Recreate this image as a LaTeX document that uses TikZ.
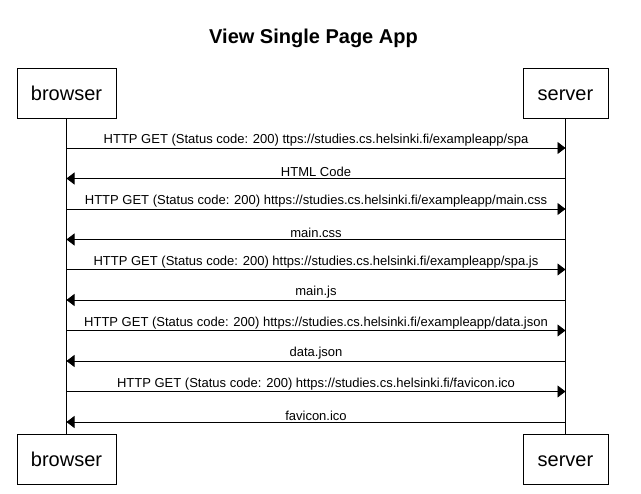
\documentclass[tikz,border=0pt]{standalone}
\usepackage{fontspec}
\setmainfont{Liberation Sans}
\usetikzlibrary{arrows.meta}
\begin{document}
\begin{tikzpicture}[x=1pt,y=-1pt,
  actor/.style={draw,line width=0.8pt,minimum height=50pt,inner sep=0pt,text height=14.6pt,text depth=0pt,font=\fontsize{20}{24}\selectfont},
  msg/.style={line width=0.8pt,-{Triangle[length=8pt,width=12pt]}},
  lbl/.style={font=\fontsize{13}{15}\selectfont,above=0pt,inner sep=1pt},
  life/.style={line width=0.8pt}]
\useasboundingbox (0,0) rectangle (641,494);
\node[font=\bfseries\fontsize{20}{24}\selectfont] (title) at (313.5,38) {View Single Page App};
\node[actor,minimum width=99pt] (bt) at (66.5,93) {browser};
\node[actor,minimum width=85pt] (st) at (565.5,93) {server};
\node[actor,minimum width=99pt] (bb) at (66.5,459) {browser};
\node[actor,minimum width=85pt] (sb) at (565.5,459) {server};
\draw[life] (bt.south) -- (bb.north);
\draw[life] (st.south) -- (sb.north);
\foreach \i/\y in {1/148,2/178.5,3/209,4/239.5,5/269.5,6/300,7/330.5,8/361,9/391.5,10/422}{
  \coordinate (b\i) at (66.5,\y);
  \coordinate (s\i) at (565.5,\y);
}
\draw[msg] (b1) -- node[lbl] {HTTP GET (Status code: 200) ttps://studies.cs.helsinki.fi/exampleapp/spa} (s1);
\draw[msg] (s2) -- node[lbl] {HTML Code} (b2);
\draw[msg] (b3) -- node[lbl] {HTTP GET (Status code: 200) https://studies.cs.helsinki.fi/exampleapp/main.css} (s3);
\draw[msg] (s4) -- node[lbl] {main.css} (b4);
\draw[msg] (b5) -- node[lbl] {HTTP GET (Status code: 200) https://studies.cs.helsinki.fi/exampleapp/spa.js} (s5);
\draw[msg] (s6) -- node[lbl] {main.js} (b6);
\draw[msg] (b7) -- node[lbl] {HTTP GET (Status code: 200) https://studies.cs.helsinki.fi/exampleapp/data.json} (s7);
\draw[msg] (s8) -- node[lbl] {data.json} (b8);
\draw[msg] (b9) -- node[lbl] {HTTP GET (Status code: 200) https://studies.cs.helsinki.fi/favicon.ico} (s9);
\draw[msg] (s10) -- node[lbl] {favicon.ico} (b10);
\end{tikzpicture}
\end{document}
